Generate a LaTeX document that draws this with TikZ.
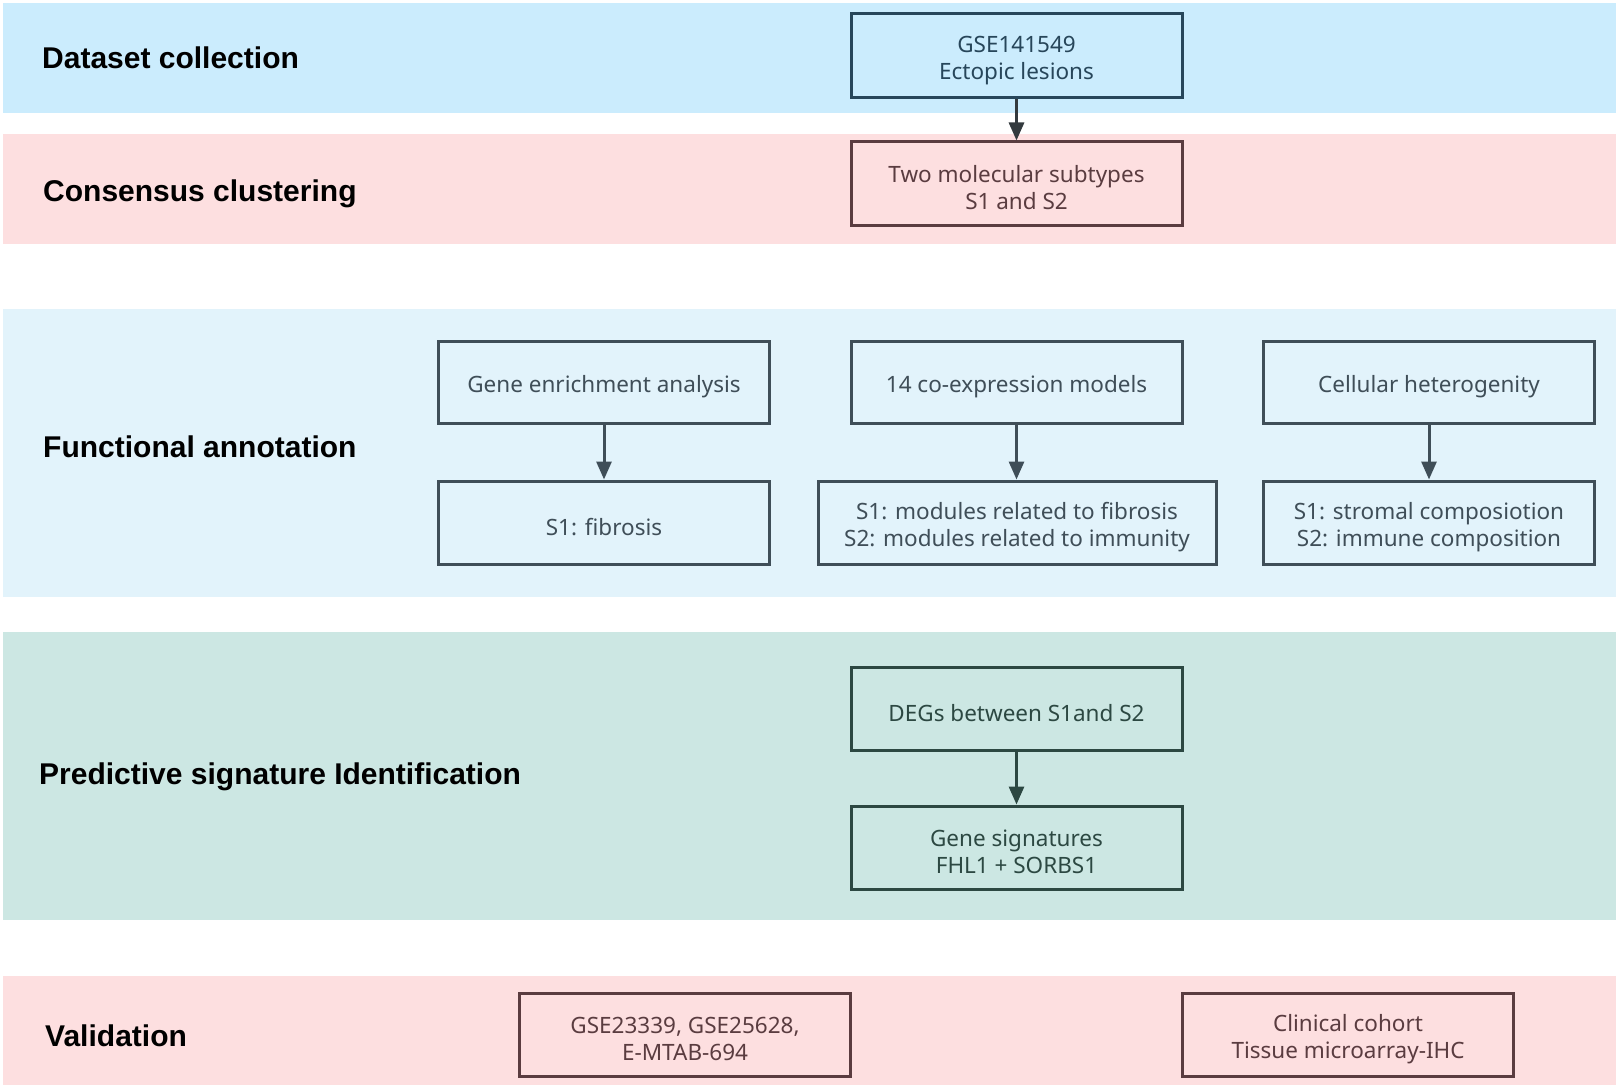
\documentclass[tikz,border=0pt]{standalone}
\usepackage{fontspec}
\setmainfont{Noto Sans}
\newfontfamily\lblfont{Liberation Sans}
\usetikzlibrary{arrows.meta}
\definecolor{bandA}{HTML}{CBECFD}
\definecolor{bandB}{HTML}{FDDFE0}
\definecolor{bandC}{HTML}{E2F3FB}
\definecolor{bandD}{HTML}{CCE7E3}
\definecolor{inkA}{HTML}{27465A}
\definecolor{inkB}{HTML}{5A3C40}
\definecolor{inkC}{HTML}{3F4E58}
\definecolor{inkD}{HTML}{2C4842}
\definecolor{arrA}{HTML}{333A3E}
\tikzset{
  band/.style={fill=#1, draw=none},
  lbl/.style={anchor=base west, inner sep=0pt, font=\lblfont\bfseries\fontsize{30}{34}\selectfont, text=black},
  bx/.style={draw=#1, line width=3pt, inner sep=0pt, minimum width=331pt, minimum height=83pt},
  bxt/.style={text=#1, align=center, inner sep=2pt, font=\fontsize{22.5}{27}\selectfont},
  arr/.style={draw=#1, line width=3pt, -{Triangle[length=18pt,width=15pt]}}
}
\newcommand\boxtext[3]{\node[bxt=#1] (#2-t) at ([yshift=-4.5pt]#2.center) {#3};}
\begin{document}
\begin{tikzpicture}[x=1pt,y=-1pt]
\useasboundingbox (0,0) rectangle (1619,1089);
% bands
\fill[band=bandA] (3,3) rectangle (1616,113);
\fill[band=bandB] (3,134) rectangle (1616,244);
\fill[band=bandC] (3,309) rectangle (1616,597);
\fill[band=bandD] (3,632) rectangle (1616,920);
\fill[band=bandB] (3,976) rectangle (1616,1085);
% labels
\node[lbl] (l1) at (42,68.5) {Dataset collection};
\node[lbl] (l2) at (43,201.5) {Consensus clustering};
\node[lbl] (l3) at (43,457.5) {Functional annotation};
\node[lbl] (l4) at (39,784.5) {Predictive signature Identification};
\node[lbl] (l5) at (45,1046.5) {Validation};
% boxes
\node[bx=inkA, minimum height=84pt] (gse) at (1016.5,56) {};
\node[bx=inkB] (two) at (1016.5,183.5) {};
\node[bx=inkC, minimum height=82pt] (gea) at (604,382) {};
\node[bx=inkC, minimum height=82pt] (coe) at (1016.5,382) {};
\node[bx=inkC, minimum height=82pt] (cel) at (1429,382) {};
\node[bx=inkC] (fib) at (604,522.5) {};
\node[bx=inkC, minimum width=398pt] (mod) at (1017,522.5) {};
\node[bx=inkC] (str) at (1429,522.5) {};
\node[bx=inkD] (deg) at (1016.5,708.5) {};
\node[bx=inkD] (sig) at (1016.5,847.5) {};
\node[bx=inkB] (gsv) at (685,1034.5) {};
\node[bx=inkB] (cli) at (1348,1034.5) {};
% box texts
\boxtext{inkA}{gse}{GSE141549\\Ectopic lesions}
\boxtext{inkB}{two}{Two molecular subtypes\\S1 and S2}
\boxtext{inkC}{gea}{Gene enrichment analysis}
\boxtext{inkC}{coe}{14 co-expression models}
\boxtext{inkC}{cel}{Cellular heterogenity}
\boxtext{inkC}{fib}{S1: fibrosis}
\boxtext{inkC}{mod}{S1: modules related to fibrosis\\S2: modules related to immunity}
\boxtext{inkC}{str}{S1: stromal composiotion\\S2: immune composition}
\boxtext{inkD}{deg}{DEGs between S1and S2}
\boxtext{inkD}{sig}{Gene signatures\\FHL1 + SORBS1}
\boxtext{inkB}{gsv}{GSE23339, GSE25628,\\E-MTAB-694}
\boxtext{inkB}{cli}{Clinical cohort\\Tissue microarray-IHC}
% arrows
\draw[arr=arrA] (gse) -- (two);
\draw[arr=inkC] (gea) -- (fib);
\draw[arr=inkC] (coe) -- (coe|-mod.north);
\draw[arr=inkC] (cel) -- (str);
\draw[arr=inkD] (deg) -- (sig);
\end{tikzpicture}
\end{document}
